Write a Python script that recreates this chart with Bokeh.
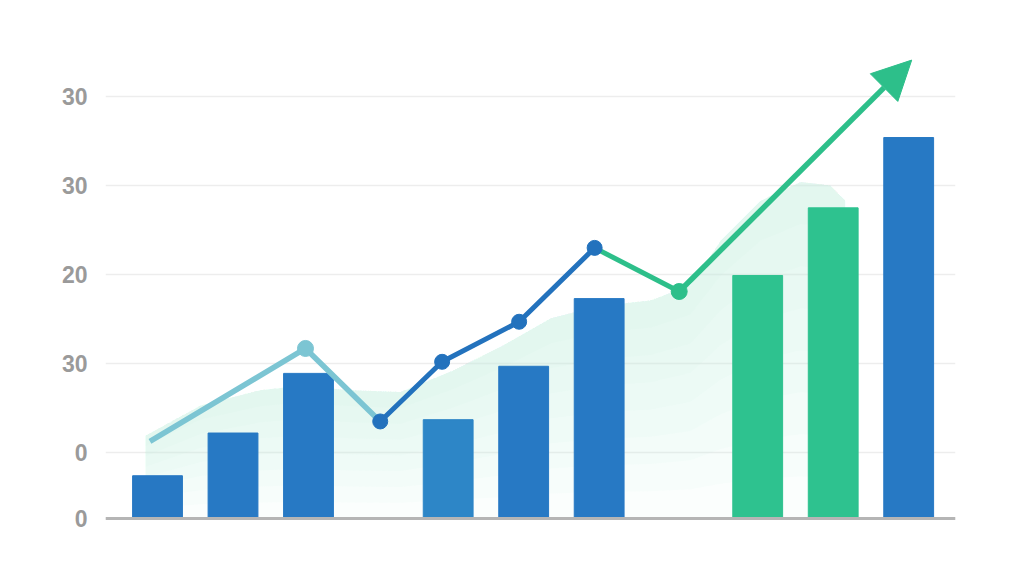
from bokeh.plotting import figure
from bokeh.models import FixedTicker, Span, Arrow, NormalHead, Range1d
from bokeh.embed import file_html
from bokeh.resources import INLINE

# bars (position in slot units, value in chart units)
bar_x = [1, 2, 3, 4.85, 5.85, 6.85, 8.95, 9.95, 10.95]
bar_y = [4.8, 9.6, 16.3, 11.1, 17.1, 24.7, 27.3, 34.9, 42.8]
bar_colors = ["#2778c3", "#2779c4", "#2779c4", "#2d86c7", "#2779c4", "#2779c4",
              "#2ec28f", "#2ec28f", "#2779c4"]

# trend line, three coloured pieces
light_x = [0.9, 2.96, 3.95]
light_y = [8.65, 19.1, 10.9]
dark_x = [3.95, 4.77, 5.79, 6.79]
dark_y = [10.9, 17.6, 22.1, 30.4]
green_x = [6.79, 7.91]
green_y = [30.4, 25.5]
arrow_end = (10.99, 51.5)

# soft background area
area_x = [0.84, 1.57, 2.36, 2.89, 3.56, 4.22, 4.91, 5.57, 6.21, 6.87, 7.53, 8.06,
          8.46, 8.99, 9.52, 9.91, 10.11]
area_y = [9.3, 12.7, 14.4, 14.9, 14.4, 14.2, 16.6, 19.4, 22.5, 23.9, 24.5, 26.2,
          31.2, 35.7, 37.8, 37.4, 35.7]

tick_pos = [0, 7.4, 17.4, 27.4, 37.4, 47.4]
tick_labels = ["0", "0", "30", "20", "30", "30"]

p = figure(width=1008, height=569, output_backend="svg", toolbar_location=None,
           x_range=Range1d(0.311, 11.57), y_range=Range1d(-2.25, 53.7),
           min_border_left=105, min_border_right=53, min_border_top=40,
           min_border_bottom=31)
p.outline_line_color = None
p.xaxis.visible = False
p.xgrid.visible = False

p.yaxis.ticker = FixedTicker(ticks=tick_pos)
p.yaxis.major_label_overrides = {t: l for t, l in zip(tick_pos, tick_labels)}
p.yaxis.axis_line_color = None
p.yaxis.major_tick_line_color = None
p.yaxis.minor_tick_line_color = None
p.yaxis.major_label_standoff = 12
p.yaxis.major_label_text_font = "Liberation Sans"
p.yaxis.major_label_text_font_style = "bold"
p.yaxis.major_label_text_font_size = "23px"
p.yaxis.major_label_text_color = "#9a9a9a"
p.ygrid.grid_line_color = "#ededed"
p.ygrid.grid_line_width = 1.5

# gradient-like fill: stacked translucent layers
n = 8
for k in range(n):
    frac = k / n
    lows = [v * frac for v in area_y]
    p.varea(x=area_x, y1=lows, y2=area_y, fill_color="#c6f1de", fill_alpha=0.065)

p.vbar(x=bar_x, top=bar_y, width=0.66, color=bar_colors)

p.add_layout(Span(location=0, dimension="width", line_color="#b5b5b5", line_width=3))

p.line(light_x, light_y, line_color="#7cc5d3", line_width=5.5)
p.line(dark_x, dark_y, line_color="#2372bd", line_width=5)
p.line(green_x, green_y, line_color="#2dbf8a", line_width=5)
p.add_layout(Arrow(end=NormalHead(size=39, fill_color="#2dbf8a", line_color="#2dbf8a"),
                   x_start=green_x[-1], y_start=green_y[-1],
                   x_end=arrow_end[0], y_end=arrow_end[1],
                   line_color="#2dbf8a", line_width=5.5))

p.scatter([light_x[1]], [light_y[1]], size=16, color="#7cc5d3")
p.scatter(dark_x, dark_y, size=15, color="#2372bd")
p.scatter([green_x[-1]], [green_y[-1]], size=16, color="#2dbf8a")

open("out.html", "w").write(file_html(p, INLINE))
